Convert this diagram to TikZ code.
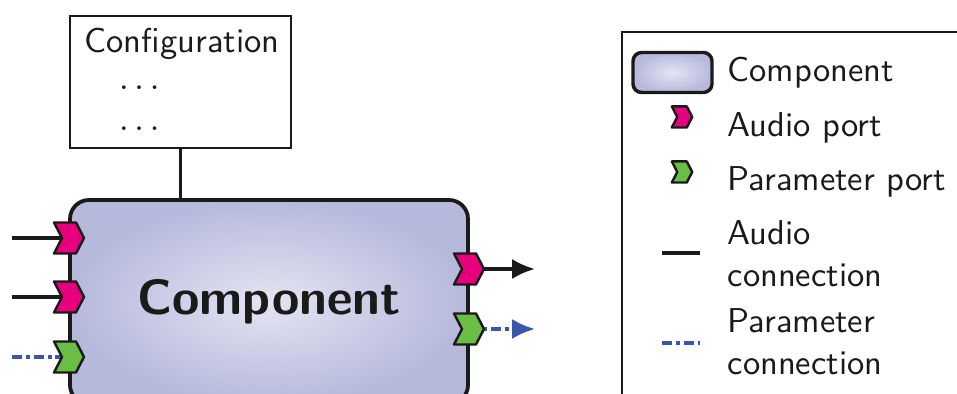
\documentclass[tikz,border=0pt]{standalone}
\usetikzlibrary{arrows.meta}
\def\pxf{0.2899}
\definecolor{audioPink}{HTML}{E6007E}
\definecolor{paramGreen}{HTML}{6ABD45}
\definecolor{paramBlue}{HTML}{3A56A8}
\definecolor{compOuter}{HTML}{B6B9DC}
\definecolor{compInner}{HTML}{E4E4F2}
\definecolor{lineDark}{HTML}{1A1A1A}
\begin{document}
\begin{tikzpicture}[x=\pxf pt,y=-\pxf pt,
  lbl/.style={font=\sffamily\fontsize{10}{12}\selectfont, inner sep=0pt, anchor=base west, text=lineDark},
  cfgbox/.style={draw=lineDark, line width=0.6pt, minimum width={221*\pxf pt}, minimum height={132*\pxf pt}, inner sep=0pt},
  compbox/.style={draw=lineDark, line width=1.1pt, rounded corners=5.5pt, inner color=compInner, outer color=compOuter,
     minimum width={398*\pxf pt}, minimum height={204*\pxf pt}, inner sep=0pt, font=\sffamily\bfseries\Large, text=lineDark},
  legcomp/.style={draw=lineDark, line width=1pt, rounded corners=2.5pt, inner color=compInner, outer color=compOuter,
     minimum width={79*\pxf pt}, minimum height={40*\pxf pt}, inner sep=0pt},
  legframe/.style={draw=lineDark, line width=0.6pt, minimum width={360*\pxf pt}, minimum height={390*\pxf pt}, inner sep=0pt},
  conn/.style={draw=lineDark, line width=0.7pt},
  audioline/.style={draw=lineDark, line width=1.2pt},
  paramline/.style={draw=paramBlue, line width=1.2pt, dash pattern=on 3pt off 1pt on 1.3pt off 1pt},
  outtip/.style={-{Latex[length=6.6pt,width=5.8pt]}},
  pics/port/.style={code={\draw[draw=lineDark, line width=0.7pt, line join=round, fill=#1]
      (-15,-15.5) -- (7,-15.5) -- (15,0) -- (7,15.5) -- (-15,15.5) -- (-7,0) -- cycle;}}
]
\useasboundingbox (0,0) rectangle (957,394);
\clip (0,0) rectangle (957,394);

% configuration box
\node[cfgbox] (cfg) at (180.5,82) {};
\node[lbl] (cfgtext) at (84,53) {\begin{tabular}[t]{@{}l@{}}Configuration\\[-1.5pt]\quad$\ldots$\\\quad$\ldots$\end{tabular}};

% component
\node[compbox] (comp) at (269,302) {Component};
\draw[conn] (cfg.south) -- (cfg.south |- comp.north);

% left ports and incoming connections
\coordinate (inA1) at (12,238); \coordinate (pA1) at (69,238);
\coordinate (inA2) at (12,297); \coordinate (pA2) at (69,297);
\coordinate (inP1) at (12,357); \coordinate (pP1) at (69,357);
\draw[audioline] (inA1) -- (pA1);
\draw[audioline] (inA2) -- (pA2);
\draw[paramline] (inP1) -- (pP1);
\pic at (pA1) {port=audioPink};
\pic at (pA2) {port=audioPink};
\pic at (pP1) {port=paramGreen};

% right ports and outgoing connections
\coordinate (pR1) at (469,269); \coordinate (outR1) at (535,269);
\coordinate (pR2) at (469,329); \coordinate (outR2) at (535,329);
\draw[audioline, line width=1pt, outtip, lineDark] (pR1) -- (outR1);
\draw[paramline, line width=1pt, outtip, paramBlue] (pR2) -- (outR2);
\pic at (pR1) {port=audioPink};
\pic at (pR2) {port=paramGreen};

% legend
\node[legframe] (leg) at (802,227) {};
\node[legcomp] (legComp) at (672.5,72.5) {};
\node[lbl] (legCompText) at (727,82) {Component};
\coordinate (legAP) at (682,117);
\pic[scale=0.68] at (legAP) {port=audioPink};
\node[lbl] (legAPText) at (727,137) {Audio port};
\coordinate (legPP) at (682,172);
\pic[scale=0.68] at (legPP) {port=paramGreen};
\node[lbl] (legPPText) at (727,191) {Parameter port};
\coordinate (legAL1) at (662,253); \coordinate (legAL2) at (700,253);
\draw[audioline] (legAL1) -- (legAL2);
\node[lbl] (legALText) at (727,245) {\begin{tabular}[t]{@{}l@{}}Audio\\connection\end{tabular}};
\coordinate (legPL1) at (662,343); \coordinate (legPL2) at (700,343);
\draw[paramline, line width=1pt] (legPL1) -- (legPL2);
\node[lbl] (legPLText) at (727,333) {\begin{tabular}[t]{@{}l@{}}Parameter\\connection\end{tabular}};
\end{tikzpicture}
\end{document}
